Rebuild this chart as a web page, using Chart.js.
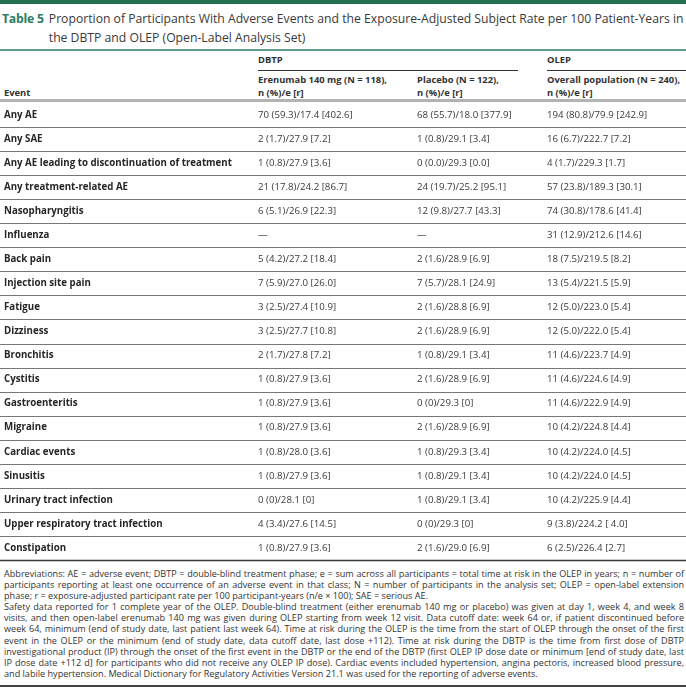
<!DOCTYPE html>
<html lang="en">
<head>
<meta charset="UTF-8" />
<title>Table 5 – Adverse Events DBTP and OLEP</title>
<script src="https://cdn.jsdelivr.net/npm/chart.js@4.4.1/dist/chart.umd.min.js"></script>
<style>
  *{box-sizing:border-box;margin:0;padding:0;}
  body{width:686px;height:691px;background:#fff;font-family:"Open Sans",sans-serif;color:#333;position:relative;overflow:hidden;}
  #topbar{position:absolute;left:0;top:0;width:686px;height:4px;background:#22704f;}
  #title{position:absolute;left:2px;top:9px;width:684px;display:flex;font-size:12.2px;line-height:19px;color:#3a3a3a;}
  #title b{color:#2a7d5e;white-space:nowrap;margin-right:5px;letter-spacing:-0.2px;}
  #titleRule{position:absolute;left:0;top:49px;width:686px;height:2px;background:#5f9f87;}
  .hd{position:absolute;font-size:9.4px;font-weight:700;color:#333;line-height:13px;}
  .hrule{position:absolute;height:1px;background:#333;top:70px;}
  #headRule{position:absolute;left:0;top:99px;width:686px;height:3px;background:#b3b3b3;}
  #tbl{position:absolute;left:0;top:103px;}
  #notes{position:absolute;left:4px;top:568px;width:680px;font-size:9.1px;line-height:11.1px;color:#333;}
  #notes div{text-align:justify;text-align-last:justify;white-space:nowrap;}
  #notes div.end{text-align-last:left;}
  #botRule{position:absolute;left:0;top:685px;width:686px;height:1.5px;background:#444;}
</style>
</head>
<body>
<div id="topbar"></div>
<div id="title"><b>Table 5</b><span>Proportion of Participants With Adverse Events and the Exposure-Adjusted Subject Rate per 100 Patient-Years in the DBTP and OLEP (Open-Label Analysis Set)</span></div>
<div id="titleRule"></div>

<div class="hd" style="left:258px;top:53px;">DBTP</div>
<div class="hrule" style="left:258px;width:260px;"></div>
<div class="hd" style="left:547px;top:53px;">OLEP</div>
<div class="hrule" style="left:547px;width:139px;"></div>
<div class="hd" style="left:4px;top:86px;">Event</div>
<div class="hd" style="left:258px;top:73px;">Erenumab 140 mg (N = 118),<br>n (%)/e [r]</div>
<div class="hd" style="left:417px;top:73px;">Placebo (N = 122),<br>n (%)/e [r]</div>
<div class="hd" style="left:547px;top:73px;">Overall population (N = 240),<br>n (%)/e [r]</div>
<div id="headRule"></div>

<canvas id="tbl" width="686" height="459"></canvas>

<div id="notes">
  <div>Abbreviations: AE = adverse event; DBTP = double-blind treatment phase; e = sum across all participants = total time at risk in the OLEP in years; n = number of</div>
  <div>participants reporting at least one occurrence of an adverse event in that class; N = number of participants in the analysis set; OLEP = open-label extension</div>
  <div class="end">phase; r = exposure-adjusted participant rate per 100 participant-years (n/e × 100); SAE = serious AE.</div>
  <div>Safety data reported for 1 complete year of the OLEP. Double-blind treatment (either erenumab 140 mg or placebo) was given at day 1, week 4, and week 8</div>
  <div>visits, and then open-label erenumab 140 mg was given during OLEP starting from week 12 visit. Data cutoff date: week 64 or, if patient discontinued before</div>
  <div>week 64, minimum (end of study date, last patient last week 64). Time at risk during the OLEP is the time from the start of OLEP through the onset of the first</div>
  <div>event in the OLEP or the minimum (end of study date, data cutoff date, last dose +112). Time at risk during the DBTP is the time from first dose of DBTP</div>
  <div>investigational product (IP) through the onset of the first event in the DBTP or the end of the DBTP (first OLEP IP dose date or minimum [end of study date, last</div>
  <div>IP dose date +112 d] for participants who did not receive any OLEP IP dose). Cardiac events included hypertension, angina pectoris, increased blood pressure,</div>
  <div class="end">and labile hypertension. Medical Dictionary for Regulatory Activities Version 21.1 was used for the reporting of adverse events.</div>
</div>
<div id="botRule"></div>

<script>
// ---- table data ----
const events=['Any AE','Any SAE','Any AE leading to discontinuation of treatment','Any treatment-related AE',
  'Nasopharyngitis','Influenza','Back pain','Injection site pain','Fatigue','Dizziness','Bronchitis','Cystitis',
  'Gastroenteritis','Migraine','Cardiac events','Sinusitis','Urinary tract infection',
  'Upper respiratory tract infection','Constipation'];
const erenumab=['70 (59.3)/17.4 [402.6]','2 (1.7)/27.9 [7.2]','1 (0.8)/27.9 [3.6]','21 (17.8)/24.2 [86.7]',
  '6 (5.1)/26.9 [22.3]','—','5 (4.2)/27.2 [18.4]','7 (5.9)/27.0 [26.0]','3 (2.5)/27.4 [10.9]','3 (2.5)/27.7 [10.8]',
  '2 (1.7)/27.8 [7.2]','1 (0.8)/27.9 [3.6]','1 (0.8)/27.9 [3.6]','1 (0.8)/27.9 [3.6]','1 (0.8)/28.0 [3.6]',
  '1 (0.8)/27.9 [3.6]','0 (0)/28.1 [0]','4 (3.4)/27.6 [14.5]','1 (0.8)/27.9 [3.6]'];
const placebo=['68 (55.7)/18.0 [377.9]','1 (0.8)/29.1 [3.4]','0 (0.0)/29.3 [0.0]','24 (19.7)/25.2 [95.1]',
  '12 (9.8)/27.7 [43.3]','—','2 (1.6)/28.9 [6.9]','7 (5.7)/28.1 [24.9]','2 (1.6)/28.8 [6.9]','2 (1.6)/28.9 [6.9]',
  '1 (0.8)/29.1 [3.4]','2 (1.6)/28.9 [6.9]','0 (0)/29.3 [0]','2 (1.6)/28.9 [6.9]','1 (0.8)/29.3 [3.4]',
  '1 (0.8)/29.1 [3.4]','1 (0.8)/29.1 [3.4]','0 (0)/29.3 [0]','2 (1.6)/29.0 [6.9]'];
const olep=['194 (80.8)/79.9 [242.9]','16 (6.7)/222.7 [7.2]','4 (1.7)/229.3 [1.7]','57 (23.8)/189.3 [30.1]',
  '74 (30.8)/178.6 [41.4]','31 (12.9)/212.6 [14.6]','18 (7.5)/219.5 [8.2]','13 (5.4)/221.5 [5.9]',
  '12 (5.0)/223.0 [5.4]','12 (5.0)/222.0 [5.4]','11 (4.6)/223.7 [4.9]','11 (4.6)/224.6 [4.9]',
  '11 (4.6)/222.9 [4.9]','10 (4.2)/224.8 [4.4]','10 (4.2)/224.0 [4.5]','10 (4.2)/224.0 [4.5]',
  '10 (4.2)/225.9 [4.4]','9 (3.8)/224.2 [ 4.0]','6 (2.5)/226.4 [2.7]'];

// column left edges (layout only)
const colX=[4,258,417,547];

const tablePlugin={
  id:'tableCells',
  afterDraw(chart){
    const {ctx,scales:{x,y}}=chart;
    const step=y.getPixelForValue(1)-y.getPixelForValue(0);
    ctx.save();
    ctx.textBaseline='middle';
    events.forEach((ev,i)=>{
      const cy=y.getPixelForValue(i);
      ctx.fillStyle='#262626';
      ctx.font='bold 9.7px "Open Sans"';
      ctx.fillText(ev,x.getPixelForValue(colX[0]),cy);
      ctx.fillStyle='#3a3a3a';
      ctx.font='9.7px "Open Sans"';
      [erenumab,placebo,olep].forEach((col,c)=>{
        ctx.fillText(col[i],x.getPixelForValue(colX[c+1]),cy);
      });
      // row rule
      const last=i===events.length-1;
      const ly=Math.round(cy+step/2)+0.5;
      ctx.beginPath();
      ctx.strokeStyle=last?'#3a3a3a':'#777';
      ctx.lineWidth=last?1.5:1;
      ctx.moveTo(x.left,ly);ctx.lineTo(x.right,ly);ctx.stroke();
    });
    ctx.restore();
  }
};

new Chart(document.getElementById('tbl'),{
  type:'bar',
  data:{labels:events,datasets:[{label:'rows',data:events.map(()=>null)}]},
  options:{
    indexAxis:'y',responsive:false,animation:false,events:[],
    layout:{padding:{top:0,bottom:2,left:0,right:0}},
    plugins:{legend:{display:false},tooltip:{enabled:false}},
    scales:{
      y:{type:'category',offset:true,display:false},
      x:{type:'linear',min:0,max:686,display:false}
    }
  },
  plugins:[tablePlugin]
});
</script>
</body>
</html>
